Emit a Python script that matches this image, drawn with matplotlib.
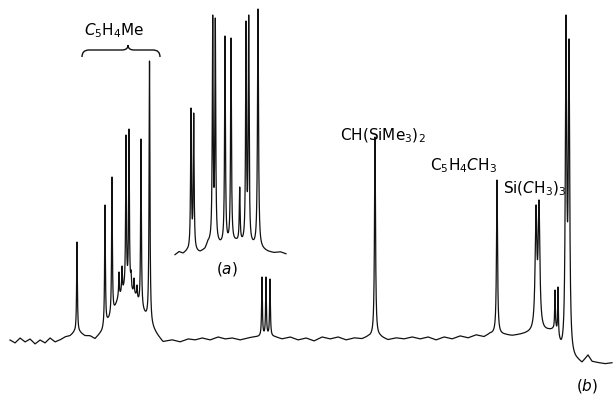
import numpy as np
import matplotlib
matplotlib.use("Agg")
import matplotlib.pyplot as plt
from matplotlib.path import Path
from matplotlib.patches import PathPatch

# picture coordinates: x to the right, y downwards (pixels of the scan)

# main spectrum (b): baseline
base_x = [10, 15, 20, 25, 30, 35, 40, 45, 50, 55, 60, 65, 70, 74, 80, 85, 90, 95, 98,
          102, 108, 113, 118, 124, 130, 136, 140, 146, 152, 158, 163,
          172, 180, 188, 195, 202, 210, 218, 225, 232, 240, 248, 255,
          275, 282, 290, 298, 306, 314, 322, 330, 338, 346, 354, 362, 368,
          380, 388, 396, 404, 412, 420, 428, 436, 444, 452, 460, 468, 476, 484, 490,
          505, 512, 520, 527, 548, 553, 556, 561, 564,
          578, 582, 588, 592, 598, 605, 612]
base_y = [340, 343, 338, 342, 339, 344, 340, 343, 338, 342, 340, 337, 336, 333, 333, 336, 336, 339, 336,
          332, 322, 315, 300, 292, 292, 298, 308, 318, 328, 336, 342,
          340, 342, 339, 340, 338, 340, 337, 339, 338, 340, 338, 337,
          337, 339, 337, 340, 338, 341, 337, 339, 337, 340, 338, 339, 337,
          337, 340, 338, 339, 337, 339, 337, 340, 337, 339, 336, 338, 335, 337, 334,
          335, 336, 335, 334, 332, 332, 334, 352, 360,
          362, 364, 356, 362, 363, 364, 363]

# peaks: position, top of the line, half width
peak_x = [77, 105, 112, 119, 122, 126, 129, 131, 134, 137, 141, 149.5,
          262, 266, 270, 375, 497, 536, 539, 555, 558, 566, 569]
peak_top = [242, 205, 177, 272, 266, 135, 129, 270, 278, 285, 139, 61,
            277, 277, 279, 137, 180, 205, 200, 290, 287, 15, 39]
peak_w = [0.45, 0.45, 0.45, 0.4, 0.4, 0.45, 0.45, 0.4, 0.4, 0.4, 0.45, 0.5,
          0.45, 0.45, 0.45, 0.6, 0.6, 1.0, 1.0, 0.4, 0.4, 0.8, 0.8]

# inset (a): expanded C5H4Me region
ins_base_x = [175, 179, 183, 187, 200, 205, 208, 220, 228, 236, 243, 252, 262, 268, 274, 280, 286]
ins_base_y = [255, 252, 254, 252, 253, 250, 244, 246, 245, 243, 245, 247, 250, 252, 253, 252, 254]
ins_peak_x = [191, 193.7, 212.7, 215.3, 225, 231, 239.7, 246, 248.7, 258]
ins_peak_top = [108, 113, 15, 18, 36, 38, 187, 21, 15, 9]
ins_peak_w = [0.5, 0.5, 0.5, 0.5, 0.5, 0.5, 0.5, 0.5, 0.5, 0.6]


def spectrum(bx, by, px, ptop, pw, step=0.02):
    bx = np.array(bx, float)
    by = np.array(by, float)
    px = np.array(px, float)
    pw = np.array(pw, float)
    # heights so that each line reaches its read-off top
    A = 1.0 / (1.0 + ((px[:, None] - px[None, :]) / pw[None, :]) ** 2)
    d = np.interp(px, bx, by) - np.array(ptop, float)
    h = np.linalg.solve(A, d)
    x = np.arange(bx[0], bx[-1], step)
    y = np.interp(x, bx, by)
    for xi, hi, wi in zip(px, h, pw):
        y -= hi / (1.0 + ((x - xi) / wi) ** 2)
    return x, y


fig = plt.figure(figsize=(6.13, 3.95), dpi=100)
ax = fig.add_axes([0, 0, 1, 1])
ax.set_xlim(0, 613)
ax.set_ylim(395, 0)
ax.axis("off")

x, y = spectrum(base_x, base_y, peak_x, peak_top, peak_w)
ax.plot(x, y, color="#111111", lw=0.9)

x, y = spectrum(ins_base_x, ins_base_y, ins_peak_x, ins_peak_top, ins_peak_w)
ax.plot(x, y, color="#111111", lw=0.9)

# brace over the C5H4Me multiplet
verts = [(82, 57), (82, 50), (89, 50), (122, 50), (128, 50), (128, 45),
         (128, 50), (134, 50), (153, 50), (160, 50), (160, 57)]
codes = [Path.MOVETO, Path.CURVE3, Path.CURVE3, Path.LINETO, Path.CURVE3, Path.CURVE3,
         Path.CURVE3, Path.CURVE3, Path.LINETO, Path.CURVE3, Path.CURVE3]
ax.add_patch(PathPatch(Path(verts, codes), fill=False, lw=1.0, color="#111111"))

fs = 11
ax.text(114, 31, r"$C_5$H$_4$Me", fontsize=fs, ha="center", va="center")
ax.text(227, 269, r"($\mathit{a}$)", fontsize=fs, ha="center", va="center")
ax.text(340, 136, r"CH(SiMe$_3$)$_2$", fontsize=fs, ha="left", va="center")
ax.text(430, 166, r"C$_5$H$_4$$C$H$_3$", fontsize=fs, ha="left", va="center")
ax.text(503, 189, r"Si($C$H$_3$)$_3$", fontsize=fs, ha="left", va="center")
ax.text(587, 386, r"($\mathit{b}$)", fontsize=fs, ha="center", va="center")

fig.savefig("out.png", dpi=100)
